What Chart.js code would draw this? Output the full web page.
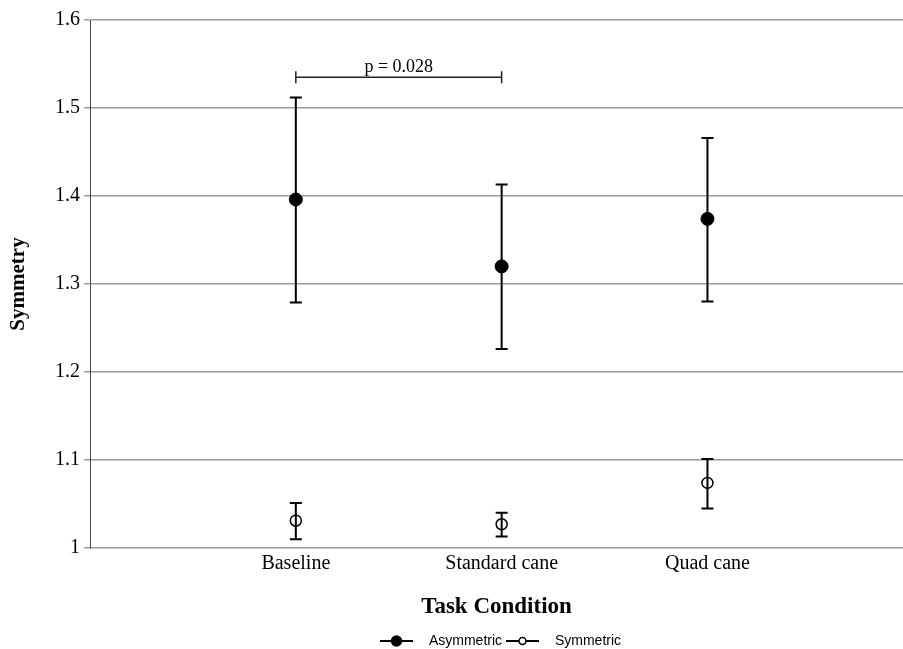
<!DOCTYPE html>
<html lang="en">
<head>
    <meta charset="UTF-8">
    <title>Symmetry by Task Condition</title>
    <style>
        body {
            margin: 0;
            background: white;
        }
        canvas {
            display: block;
        }
    </style>
    <script src="https://cdn.jsdelivr.net/npm/chart.js"></script>
</head>
<body>
    <canvas id="chart" width="903" height="649"></canvas>
    <script>
        // data
        var categories = ['Baseline', 'Standard cane', 'Quad cane'];
        var catPositions = [1, 2, 3];

        var asymMean = [1.396, 1.320, 1.374];
        var asymLow = [1.279, 1.226, 1.280];
        var asymHigh = [1.512, 1.413, 1.466];

        var symMean = [1.031, 1.027, 1.074];
        var symLow = [1.010, 1.013, 1.045];
        var symHigh = [1.051, 1.040, 1.101];

        var yTicks = [1, 1.1, 1.2, 1.3, 1.4, 1.5, 1.6];

        var bracketFrom = 1;
        var bracketTo = 2;
        var bracketLevel = 1.535;
        var bracketText = 'p = 0.028';

        var serif = "'Liberation Serif', 'Times New Roman', serif";
        var sans = "'Liberation Sans', Arial, sans-serif";

        function toPoints(vals) {
            return vals.map(function(v, i) { return { x: catPositions[i], y: v }; });
        }

        // line + marker picture for the legend, blank space on the right
        function legendMarker(filled) {
            var c = document.createElement('canvas');
            c.width = 42;
            c.height = 14;
            var g = c.getContext('2d');
            g.strokeStyle = 'black';
            g.lineWidth = 2;
            g.beginPath();
            g.moveTo(0, 7);
            g.lineTo(33, 7);
            g.stroke();
            g.beginPath();
            g.arc(16.5, 7, filled ? 5 : 3.5, 0, Math.PI * 2);
            g.fillStyle = filled ? 'black' : 'white';
            g.fill();
            g.lineWidth = 1.5;
            g.stroke();
            return c;
        }

        var errorBars = {
            id: 'errorBars',
            afterLayout: function(chart) {
                // the legend sits a bit right of the canvas centre
                chart.legend.left += 49;
                chart.legend.right += 49;
            },
            afterDatasetsDraw: function(chart) {
                var ctx = chart.ctx;
                var xs = chart.scales.x;
                var ys = chart.scales.y;
                var sets = [[asymLow, asymHigh], [symLow, symHigh]];
                ctx.save();
                ctx.strokeStyle = 'black';
                ctx.lineWidth = 2;
                sets.forEach(function(s) {
                    for (var i = 0; i < catPositions.length; i++) {
                        var x = xs.getPixelForValue(catPositions[i]);
                        var y1 = ys.getPixelForValue(s[0][i]);
                        var y2 = ys.getPixelForValue(s[1][i]);
                        ctx.beginPath();
                        ctx.moveTo(x, y1); ctx.lineTo(x, y2);
                        ctx.moveTo(x - 6, y1); ctx.lineTo(x + 6, y1);
                        ctx.moveTo(x - 6, y2); ctx.lineTo(x + 6, y2);
                        ctx.stroke();
                    }
                });

                // significance bracket
                var bx1 = xs.getPixelForValue(bracketFrom);
                var bx2 = xs.getPixelForValue(bracketTo);
                var by = ys.getPixelForValue(bracketLevel);
                ctx.lineWidth = 1.5;
                ctx.strokeStyle = '#222';
                ctx.beginPath();
                ctx.moveTo(bx1, by); ctx.lineTo(bx2, by);
                ctx.moveTo(bx1, by - 6); ctx.lineTo(bx1, by + 6);
                ctx.moveTo(bx2, by - 6); ctx.lineTo(bx2, by + 6);
                ctx.stroke();
                ctx.fillStyle = 'black';
                ctx.font = '18px ' + serif;
                ctx.textAlign = 'center';
                ctx.textBaseline = 'bottom';
                ctx.fillText(bracketText, (bx1 + bx2) / 2, by - 1);
                ctx.restore();
            }
        };

        var chart = new Chart(document.getElementById('chart'), {
            type: 'scatter',
            data: {
                datasets: [{
                    label: 'Asymmetric',
                    data: toPoints(asymMean),
                    pointRadius: 6.5,
                    pointBackgroundColor: 'black',
                    pointBorderColor: 'black',
                    pointBorderWidth: 1,
                    showLine: false
                }, {
                    label: 'Symmetric',
                    data: toPoints(symMean),
                    pointRadius: 5.5,
                    pointBackgroundColor: 'white',
                    pointBorderColor: 'black',
                    pointBorderWidth: 1.5,
                    showLine: false
                }]
            },
            options: {
                responsive: false,
                animation: false,
                layout: { autoPadding: false, padding: { top: 20, right: 0, left: 0, bottom: -9 } },
                plugins: {
                    tooltip: { enabled: false },
                    legend: {
                        position: 'bottom',
                        labels: {
                            usePointStyle: true,
                            pointStyleWidth: 42,
                            padding: 0,
                            color: 'black',
                            font: { family: sans, size: 14 },
                            generateLabels: function() {
                                return [
                                    { text: 'Asymmetric ', pointStyle: legendMarker(true), fillStyle: 'black', strokeStyle: 'black', lineWidth: 0, datasetIndex: 0 },
                                    { text: 'Symmetric', pointStyle: legendMarker(false), fillStyle: 'white', strokeStyle: 'black', lineWidth: 0, datasetIndex: 1 }
                                ];
                            }
                        }
                    }
                },
                scales: {
                    x: {
                        type: 'linear',
                        min: 0,
                        max: 3.95,
                        afterBuildTicks: function(axis) {
                            axis.ticks = catPositions.map(function(v) { return { value: v }; });
                        },
                        afterFit: function(axis) { axis.height = 86; },
                        grid: { display: false, drawTicks: false },
                        border: { display: false },
                        ticks: {
                            color: 'black',
                            padding: 4,
                            font: { family: serif, size: 20 },
                            callback: function(v) {
                                var i = catPositions.indexOf(v);
                                return i >= 0 ? categories[i] : '';
                            }
                        },
                        title: {
                            display: true,
                            text: 'Task Condition',
                            color: 'black',
                            font: { family: serif, size: 23, weight: 'bold' },
                            padding: { top: 14, bottom: 13 }
                        }
                    },
                    y: {
                        min: 1,
                        max: 1.6,
                        afterBuildTicks: function(axis) {
                            axis.ticks = yTicks.map(function(v) { return { value: v }; });
                        },
                        afterFit: function(axis) { axis.width = 90; },
                        grid: {
                            color: '#999',
                            lineWidth: 1.5,
                            tickLength: 6,
                            tickColor: '#999'
                        },
                        border: { color: '#444', width: 1 },
                        ticks: {
                            color: 'black',
                            padding: 4,
                            font: { family: serif, size: 20 },
                            callback: function(v) { return String(Math.round(v * 10) / 10); }
                        },
                        title: {
                            display: true,
                            text: 'Symmetry',
                            color: 'black',
                            font: { family: serif, size: 21, weight: 'bold' },
                            padding: { top: 6, bottom: 10 }
                        }
                    }
                }
            },
            plugins: [errorBars]
        });
    </script>
</body>
</html>
